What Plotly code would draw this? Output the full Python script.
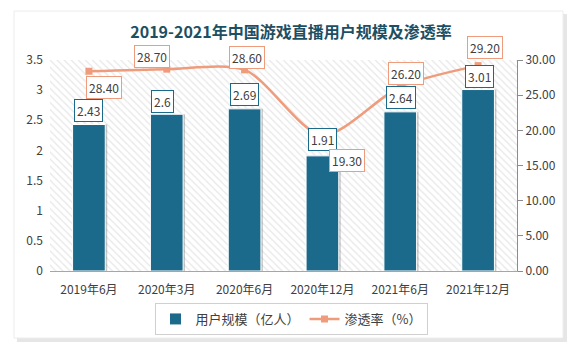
import plotly.graph_objects as go

categories = ["2019年6月", "2020年3月", "2020年6月", "2020年12月", "2021年6月", "2021年12月"]
users = [2.43, 2.6, 2.69, 1.91, 2.64, 3.01]          # 用户规模（亿人）
penetration = [28.40, 28.70, 28.60, 19.30, 26.20, 29.20]  # 渗透率（%）
user_labels = ["2.43", "2.6", "2.69", "1.91", "2.64", "3.01"]
pen_labels = ["28.40", "28.70", "28.60", "19.30", "26.20", "29.20"]

Y1_MAX = 3.5
Y2_MAX = 30

# label offsets (style, in px)
bar_lab_shift = [(0, 14), (-4, 13), (0, 14), (0, 16), (1, 14), (1, 13)]
line_lab_shift = [(15, -16), (-15, 13), (2, 12), (25, -25), (6, 13), (7, 18)]

BLUE = "#1b6a8c"
ORANGE = "#ef9c7c"
TXT = "#404040"
FONT = "Noto Sans CJK SC"

fig = go.Figure()

# hatched plot-area background
fig.add_trace(go.Bar(
    x=categories, y=[Y1_MAX] * len(categories), width=1,
    marker=dict(color="white", line=dict(width=0),
                pattern=dict(shape="\\", fgcolor="#cfcfcf", bgcolor="white", size=5, solidity=0.25)),
    showlegend=False, hoverinfo="skip"))

# bar shadow
fig.add_trace(go.Bar(
    x=categories, y=users, width=0.42, offset=-0.21 + 0.025,
    marker=dict(color="rgba(0,0,0,0.22)", line=dict(width=0)),
    showlegend=False, hoverinfo="skip"))

fig.add_trace(go.Bar(
    x=categories, y=users, width=0.42, offset=-0.21, name="用户规模（亿人）",
    marker=dict(color=BLUE, line=dict(color="white", width=1))))

fig.add_trace(go.Scatter(
    x=categories, y=penetration, yaxis="y2", name="渗透率（%）",
    mode="lines+markers", line=dict(color=ORANGE, width=2.5, shape="spline", smoothing=0.8),
    marker=dict(symbol="square", size=7, color=ORANGE)))

annotations = []
for c, v, t, (dx, dy) in zip(categories, users, user_labels, bar_lab_shift):
    annotations.append(dict(x=c, y=v, xref="x", yref="y", text=t, showarrow=False,
                            xshift=dx, yshift=dy, bgcolor="white", bordercolor=BLUE,
                            borderwidth=1, borderpad=2,
                            font=dict(family=FONT, size=12, color=TXT)))
for c, v, t, (dx, dy) in zip(categories, penetration, pen_labels, line_lab_shift):
    annotations.append(dict(x=c, y=v, xref="x", yref="y2", text=t, showarrow=False,
                            xshift=dx, yshift=dy, bgcolor="white", bordercolor=ORANGE,
                            borderwidth=1, borderpad=2,
                            font=dict(family=FONT, size=12, color=TXT)))

# card with shadow (paper coords)
L, R, T, B = 50, 66, 60, 81
W, H = 583, 352
pw, ph = W - L - R, H - T - B
def px(x): return (x - L) / pw
def py(y): return (H - B - y) / ph

shapes = [
    dict(type="rect", xref="paper", yref="paper", layer="below",
         x0=px(17), x1=px(567), y0=py(342), y1=py(14),
         fillcolor="#e6e6e6", line=dict(width=0)),
    dict(type="rect", xref="paper", yref="paper", layer="below",
         x0=px(14), x1=px(563), y0=py(338), y1=py(11),
         fillcolor="white", line=dict(color="#ececec", width=1)),
]

fig.update_layout(
    width=W, height=H,
    margin=dict(l=L, r=R, t=T, b=B),
    paper_bgcolor="white", plot_bgcolor="rgba(0,0,0,0)",
    barmode="overlay",
    title=dict(text="<b>2019-2021年中国游戏直播用户规模及渗透率</b>",
               x=px(291), xref="paper", xanchor="center",
               y=1 - 32 / H, yanchor="middle",
               font=dict(family=FONT, size=16, color="#1d4f63")),
    xaxis=dict(showgrid=False, showline=True, linecolor="#a6a6a6", linewidth=1,
               ticks="", ticklabelstandoff=8,
               tickfont=dict(family=FONT, size=12, color=TXT), range=[-0.5, 5.5]),
    yaxis=dict(range=[0, Y1_MAX], dtick=0.5, showgrid=False, showline=False, zeroline=False,
               ticks="", ticklabelstandoff=6,
               tickfont=dict(family=FONT, size=12, color=TXT)),
    yaxis2=dict(range=[0, Y2_MAX], dtick=5, overlaying="y", side="right", showgrid=False,
                showline=True, linecolor="#8c8c8c", linewidth=1, zeroline=False,
                ticks="outside", ticklen=5, tickcolor="#8c8c8c", tickformat=".2f",
                tickfont=dict(family=FONT, size=12, color=TXT)),
    legend=dict(orientation="h", x=px(291), xanchor="center", y=py(319), yanchor="middle",
                bordercolor="#d0d0d0", borderwidth=1, bgcolor="white",
                font=dict(family=FONT, size=13, color=TXT), itemwidth=30),
    annotations=annotations, shapes=shapes,
    showlegend=True,
)

fig.write_html("out.html")
